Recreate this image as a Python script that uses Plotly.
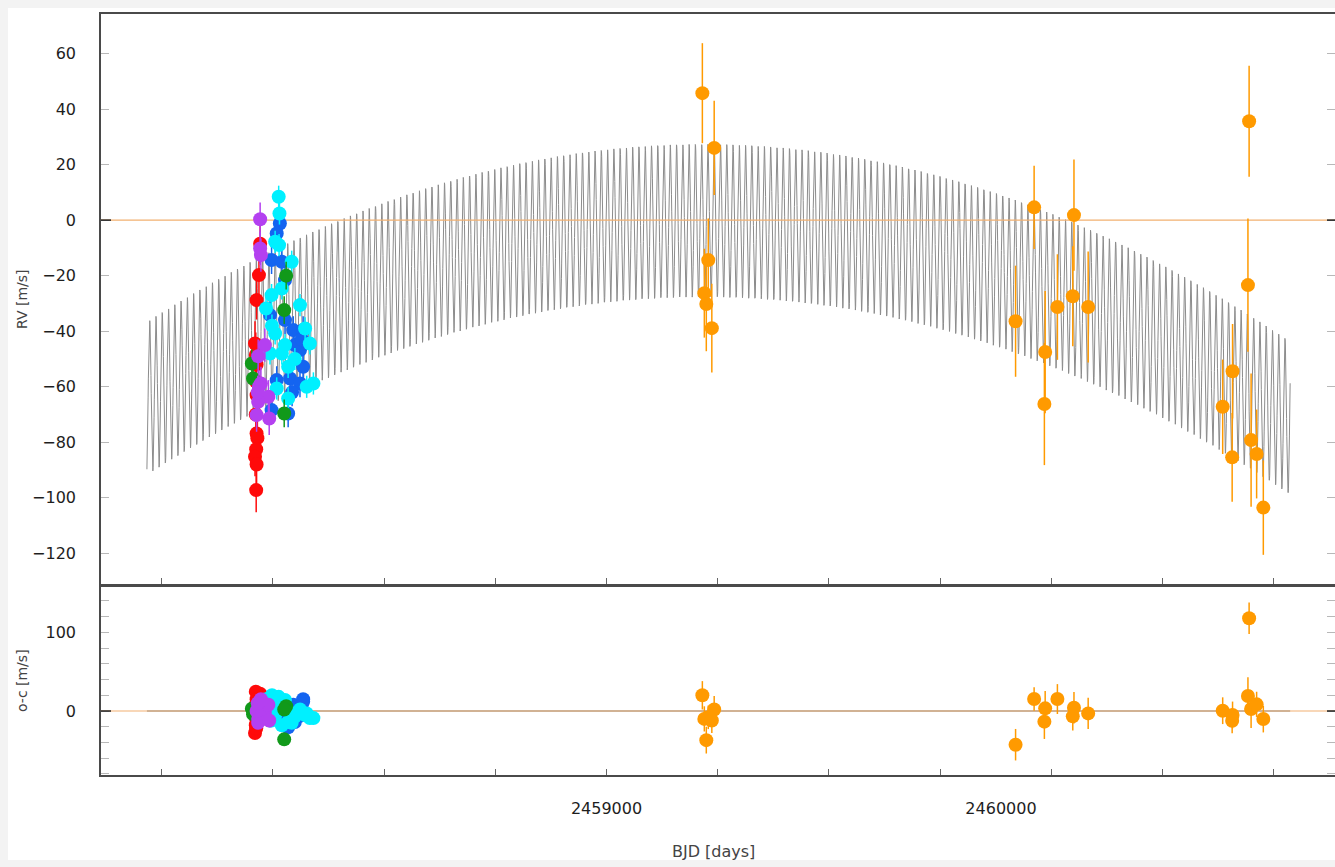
import numpy as np
import plotly.graph_objects as go

# ---------------- data ----------------
# orange instrument
or_t   = [2459243, 2459273, 2459258, 2459248, 2459253, 2459267,
          2460037, 2460084, 2460110, 2460112, 2460143, 2460182, 2460185, 2460221,
          2460562, 2460586, 2460587, 2460626, 2460629, 2460634, 2460648, 2460665]
or_rv  = [45.7, 26.0, -14.4, -26.3, -30.2, -38.9,
          -36.4, 4.6, -66.2, -47.5, -31.3, -27.4, 1.8, -31.3,
          -67.2, -85.4, -54.4, -23.4, 35.6, -79.2, -84.2, -103.5]
or_err = [18, 17, 15, 16, 17, 16,
          20, 15, 22, 22, 19, 18, 20, 20,
          17, 16, 17, 24, 20, 24, 16, 17]
or_oc  = [20, 2, -8, -10, -37, -12,
          -42.8, 15.2, -13.5, 3.4, 15.2, -6.8, 4.2, -3.0,
          0.4, -12.3, -5.0, 19.0, 117.8, 2.5, 8.5, -10.2]

# red instrument
red_t   = [2458122, 2458119, 2458113, 2458109, 2458111, 2458113, 2458111, 2458113,
           2458111, 2458113, 2458115, 2458112, 2458109, 2458113, 2458112]
red_rv  = [-8.5, -19.8, -28.8, -44.4, -48.5, -52.0, -58.0, -63.0,
           -70.0, -76.8, -78.5, -82.5, -85.2, -88.0, -97.2]
red_err = [7, 7, 7, 8, 8, 7, 8, 7, 8, 7, 7, 8, 7, 8, 8]
red_oc  = [22, 12, 4, -6, 24.6, -12, 8, -3, -18, 15, -8, 5, -28, -15, -22]

# purple instrument
pu_t   = [2458122, 2458122, 2458124, 2458134, 2458117, 2458124, 2458119,
          2458143, 2458117, 2458113, 2458145, 2458116]
pu_rv  = [0.3, -10.2, -12.6, -45.0, -49.0, -58.8, -60.0,
          -63.6, -65.4, -70.2, -71.4, -62.0]
pu_err = [6, 6, 6, 6, 6, 6, 6, 6, 6, 6, 6, 6]
pu_oc  = [5, -8, 12, -2, -10, 15, -5, 8, -15, 0, -12, 10]

# blue instrument
bl_t   = [2458172, 2458164, 2458151, 2458177, 2458185, 2458147, 2458185, 2458206,
          2458231, 2458223, 2458231, 2458198, 2458223, 2458164, 2458193, 2458151,
          2458210, 2458203, 2458228]
bl_rv  = [-1.2, -4.8, -14.4, -15.0, -21.6, -34.2, -36.0, -39.6,
          -39.6, -46.8, -52.8, -57.0, -58.8, -57.6, -69.6, -68.4,
          -45.0, -62.0, -43.0]
bl_err = [5] * 19
bl_oc  = [6, -4, 3, -8, 10, -12, 2, 8, 15, -6, 12, -3, 5, -10, -20.7, 0,
          -14, 4, 9]

# cyan instrument
cy_t   = [2458169, 2458171, 2458160, 2458170, 2458202, 2458177, 2458151, 2458137,
          2458223, 2458236, 2458248, 2458160, 2458177, 2458257, 2458240, 2458193,
          2458164, 2458193, 2458147, 2458185, 2458152, 2458210]
cy_rv  = [8.4, 2.4, -7.8, -9.0, -15.0, -24.6, -27.0, -31.8,
          -30.6, -39.0, -44.4, -40.8, -48.0, -58.8, -60.0, -64.2,
          -60.6, -52.8, -48.0, -45.0, -38.0, -50.0]
cy_err = [4] * 22
cy_oc  = [18, 12, -6, 4, -15, 9, -12, 15, 2, -5, -9, 6, -18, -9, -3, -14,
          10, 0, -10, 14, 20, -7]

# green instrument
gr_t   = [2458188, 2458183, 2458183, 2458101, 2458104]
gr_rv  = [-20.0, -32.4, -69.6, -51.6, -57.0]
gr_err = [5, 5, 5, 5, 5]
gr_oc  = [6, 2, -36, 3, -4]

# fitted model (keplerian + quadratic trend), parameters
model_t_start = 2457835
model_t_end = 2460733
model_period = 15.9          # days
model_K = 27.5               # m/s semi-amplitude
model_vertex_t = 2459246     # time of trend maximum
model_vertex_rv = -0.2       # m/s
model_curv = 3.215e-5        # m/s / day^2
model_phase_t = 2457838

# axes
x_range = [2457718.6, 2460846.7]
y1_range = [-131.0, 74.2]
y2_range = [-81.3, 157.6]
x_label_vals = [2459000, 2460000]
x_tick_marks = [2457872.4, 2458154.3, 2458436.2, 2458718.1, 2459000.0, 2459281.9,
                2459563.8, 2459845.7, 2460127.6, 2460409.5, 2460691.4]
y1_ticks = [-120, -100, -80, -60, -40, -20, 0, 20, 40, 60]
y2_labels = [0, 100]
y2_ticks = [-80, -60, -40, -20, 0, 20, 40, 60, 80, 100, 120, 140]

# ---------------- figure ----------------
tm = np.linspace(model_t_start, model_t_end, 4800)
rv_model = (model_K * np.sin(2 * np.pi * (tm - model_phase_t) / model_period)
            + model_vertex_rv - model_curv * (tm - model_vertex_t) ** 2)

fig = go.Figure()

fig.add_trace(go.Scatter(x=tm, y=rv_model, mode="lines",
                         line=dict(color="#8c8c8c", width=1),
                         xaxis="x", yaxis="y", hoverinfo="skip"))
fig.add_trace(go.Scatter(x=x_range, y=[0, 0], mode="lines",
                         line=dict(color="#f2b070", width=1.2),
                         xaxis="x", yaxis="y", hoverinfo="skip"))
fig.add_trace(go.Scatter(x=x_range, y=[0, 0], mode="lines",
                         line=dict(color="#f6caa0", width=1.5),
                         xaxis="x2", yaxis="y2", hoverinfo="skip"))
fig.add_trace(go.Scatter(x=[model_t_start, model_t_end], y=[0, 0], mode="lines",
                         line=dict(color="#c4a688", width=1.5),
                         xaxis="x2", yaxis="y2", hoverinfo="skip"))

series = [
    (red_t, red_rv, red_err, red_oc, "#ff0a0a"),
    (bl_t, bl_rv, bl_err, bl_oc, "#1464f0"),
    (cy_t, cy_rv, cy_err, cy_oc, "#00f0ff"),
    (gr_t, gr_rv, gr_err, gr_oc, "#11991a"),
    (pu_t, pu_rv, pu_err, pu_oc, "#b440f0"),
    (or_t, or_rv, or_err, or_oc, "#ff9a00"),
]
for t, rv, err, oc, col in series:
    fig.add_trace(go.Scatter(
        x=t, y=rv, mode="markers", xaxis="x", yaxis="y",
        marker=dict(color=col, size=14, line=dict(width=0)),
        error_y=dict(type="data", array=err, color=col, thickness=1.5, width=0)))
    fig.add_trace(go.Scatter(
        x=t, y=oc, mode="markers", xaxis="x2", yaxis="y2",
        marker=dict(color=col, size=14, line=dict(width=0)),
        error_y=dict(type="data", array=err, color=col, thickness=1.5, width=0)))

W, H = 1335, 867
ML, MR, MT, MB = 101, 0, 14, 92
pw, ph = W - ML - MR, H - MT - MB


def px_x(x):
    return (x - ML) / pw


def px_y(y):
    return (H - MB - y) / ph


FONT = "DejaVu Sans, Verdana, sans-serif"
axis_font = dict(family=FONT, size=16, color="#1e1e1e")
line_col = "#4a4a4a"
tick_col = "#b8b8b8"

xcommon = dict(range=x_range, showline=True, linecolor=line_col, linewidth=1.5,
               mirror=True, showgrid=False, zeroline=False,
               ticks="", tickmode="array", tickvals=x_label_vals,
               ticktext=[str(v) for v in x_label_vals],
               minor=dict(tickmode="array", tickvals=x_tick_marks, ticks="inside",
                          ticklen=6, tickcolor="#666", tickwidth=1),
               tickfont=axis_font)

ycommon = dict(showline=True, linecolor=line_col, linewidth=1.5, mirror=False,
               showgrid=False, zeroline=False, ticks="inside", ticklen=8,
               tickcolor=tick_col, tickwidth=1, tickmode="array",
               tickfont=axis_font, ticklabelstandoff=20)

fig.update_layout(
    width=W, height=H,
    margin=dict(l=ML, r=MR, t=MT, b=MB),
    paper_bgcolor="#f3f3f3", plot_bgcolor="rgba(0,0,0,0)",
    showlegend=False,
    xaxis=dict(**xcommon, domain=[0, 1], anchor="y", showticklabels=False),
    xaxis2=dict(**xcommon, domain=[0, 1], anchor="y2", matches="x",
                showticklabels=True, ticklabelstandoff=18),
    yaxis=dict(**ycommon, domain=[px_y(584), 1], range=y1_range, tickvals=y1_ticks),
    yaxis2=dict(**ycommon, domain=[0, px_y(587)], range=y2_range, tickvals=y2_labels,
                minor=dict(tickmode="array", tickvals=y2_ticks, ticks="inside",
                           ticklen=8, tickcolor=tick_col, tickwidth=1)),
    # right-hand tick marks (no axis line, plot is cut at the window edge)
    yaxis3=dict(overlaying="y", anchor="x", side="right", matches="y",
                showline=False, showgrid=False, zeroline=False, showticklabels=False,
                ticks="inside", ticklen=8, tickcolor=tick_col, tickmode="array",
                tickvals=y1_ticks),
    yaxis4=dict(overlaying="y2", anchor="x2", side="right", matches="y2",
                showline=False, showgrid=False, zeroline=False, showticklabels=False,
                ticks="inside", ticklen=8, tickcolor=tick_col, tickmode="array",
                tickvals=y2_ticks),
    shapes=[
        dict(type="rect", xref="paper", yref="paper", layer="below",
             x0=px_x(8), x1=px_x(W + 5), y0=px_y(860), y1=px_y(8),
             fillcolor="white", line=dict(width=0)),
        dict(type="line", xref="x domain", yref="y", x0=0, x1=10 / pw, y0=0, y1=0,
             line=dict(color="#222", width=1.5)),
        dict(type="line", xref="x2 domain", yref="y2", x0=0, x1=10 / pw, y0=0, y1=0,
             line=dict(color="#222", width=1.5)),
        dict(type="line", xref="x domain", yref="y", x0=1 - 8 / pw, x1=1, y0=0, y1=0,
             line=dict(color="#222", width=1.5)),
        dict(type="line", xref="x2 domain", yref="y2", x0=1 - 8 / pw, x1=1, y0=0, y1=0,
             line=dict(color="#222", width=1.5)),
    ],
    annotations=[
        dict(text="RV [m/s]", xref="paper", yref="paper", x=px_x(22), y=px_y(299),
             textangle=-90, showarrow=False, xanchor="center", yanchor="middle",
             font=dict(family=FONT, size=14, color="#444")),
        dict(text="o-c [m/s]", xref="paper", yref="paper", x=px_x(22), y=px_y(681),
             textangle=-90, showarrow=False, xanchor="center", yanchor="middle",
             font=dict(family=FONT, size=14, color="#444")),
        dict(text="BJD [days]", xref="paper", yref="paper", x=px_x(713), y=px_y(851),
             showarrow=False, xanchor="center", yanchor="middle",
             font=dict(family=FONT, size=16, color="#444")),
    ],
)

# invisible traces so the right-hand tick axes are drawn
fig.add_trace(go.Scatter(x=[x_range[0]], y=[0], xaxis="x", yaxis="y3", mode="markers",
                         marker=dict(opacity=0), hoverinfo="skip"))
fig.add_trace(go.Scatter(x=[x_range[0]], y=[0], xaxis="x2", yaxis="y4", mode="markers",
                         marker=dict(opacity=0), hoverinfo="skip"))

fig.write_html("out.html")
